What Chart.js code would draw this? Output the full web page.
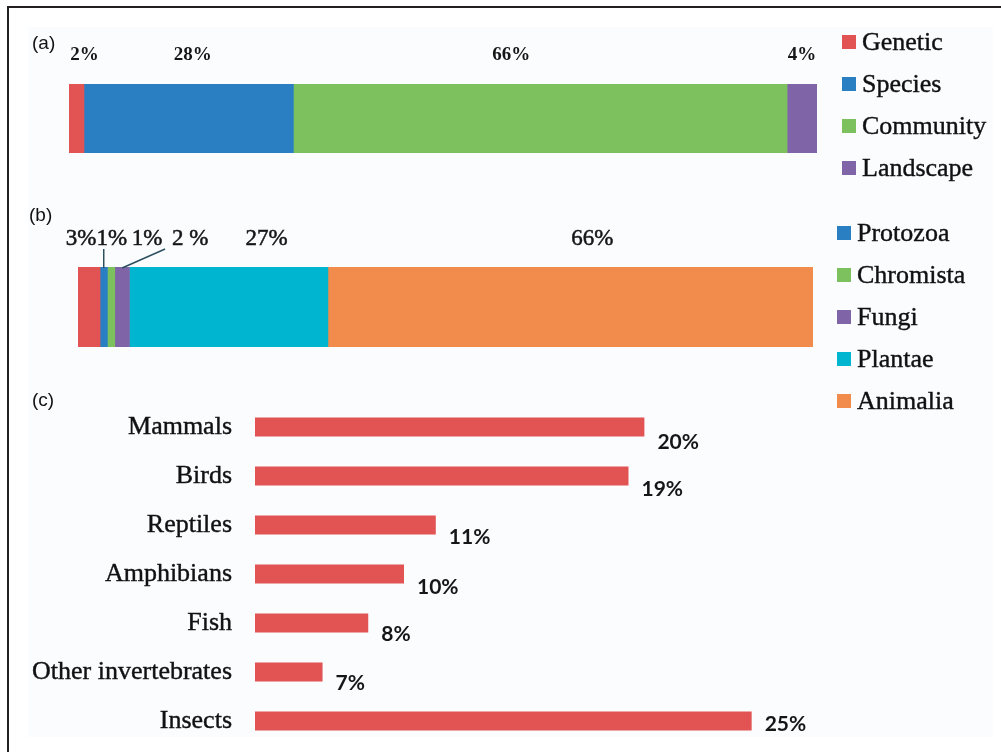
<!DOCTYPE html>
<html>
<head>
<meta charset="utf-8">
<script src="https://cdn.jsdelivr.net/npm/chart.js@4.4.1/dist/chart.umd.min.js"></script>
<style>
  body { margin: 0; background: #fff; width: 1001px; height: 752px; overflow: hidden; position: relative; }
  #frame { position: absolute; left: 7px; top: 6px; right: -10px; bottom: -10px; border-left: 2px solid #231f20; border-top: 2px solid #231f20; }
  #panel { position: absolute; left: 28px; top: 27px; width: 965px; height: 710px; background: #fbfcfe; }
  canvas { position: absolute; left: 0; }
  .tag { position: absolute; font: 19px 'Liberation Sans', Arial, sans-serif; color: #111; line-height: 20px; }
  .legend { position: absolute; list-style: none; margin: 0; padding: 0; font: 26px 'Liberation Serif', serif; color: #111; -webkit-text-stroke: 0.4px #111; }
  .legend li { height: 42px; display: flex; align-items: center; white-space: nowrap; }
  .legend span { display: inline-block; width: 14px; height: 14px; margin-right: 6px; }
</style>
</head>
<body>
<div id="frame"></div>
<div id="panel"></div>

<canvas id="chartA" width="1001" height="190" style="top:0"></canvas>
<canvas id="chartB" width="1001" height="200" style="top:190px"></canvas>
<canvas id="chartC" width="1001" height="424" style="top:362px"></canvas>

<div class="tag" style="left:32px;top:33px">(a)</div>
<div class="tag" style="left:29px;top:205px">(b)</div>
<div class="tag" style="left:32px;top:390px">(c)</div>

<ul class="legend" id="legendA" style="left:842px;top:21px"></ul>
<ul class="legend" id="legendB" style="left:837px;top:212px"></ul>

<script>
// (a) levels of biodiversity
const aLabels = ['Genetic', 'Species', 'Community', 'Landscape'];
const aValues = [2, 28, 66, 4];
const aColors = ['#e25353', '#2a7fc2', '#7dc15f', '#8064a8'];

// (b) kingdoms (first segment has no legend entry in the figure)
const bLabels = ['Bacteria', 'Protozoa', 'Chromista', 'Fungi', 'Plantae', 'Animalia'];
const bValues = [3, 1, 1, 2, 27, 66];
const bTexts = ['3%', '1%', '1%', '2 %', '27%', '66%'];
const bColors = ['#e25353', '#2a7fc2', '#7dc15f', '#8064a8', '#00b5cf', '#f28c4d'];

// (c) animal groups: bar lengths as drawn, and the printed percentages
const cCategories = ['Mammals', 'Birds', 'Reptiles', 'Amphibians', 'Fish', 'Other invertebrates', 'Insects'];
const cValues = [19.6, 18.8, 9.1, 7.5, 5.7, 3.4, 25];
const cTexts = ['20%', '19%', '11%', '10%', '8%', '7%', '25%'];

// label placement tweaks (px), not data
const aLabelShift = [8, 4, -29, 0];
const bLabelShift = [-8, 8, 36, 68, 38, 22];
const bLeaders = [null, 0, null, 43, null, null];
const cLabelDrop = [15, 13, 12, 13, 11, 11, 3];

const stackLabels = {
  id: 'stackLabels',
  afterDatasetsDraw(chart, args, opts) {
    const ctx = chart.ctx;
    ctx.save();
    ctx.font = opts.font;
    ctx.fillStyle = '#161616';
    ctx.strokeStyle = '#161616';
    ctx.lineWidth = opts.stroke || 0;
    ctx.textAlign = 'center';
    ctx.textBaseline = 'middle';
    chart.data.datasets.forEach((ds, i) => {
      const bar = chart.getDatasetMeta(i).data[0];
      const mid = (bar.x + bar.base) / 2;
      const top = bar.y - bar.height / 2;
      const y = top - opts.gap;
      ctx.fillText(opts.texts[i], mid + opts.shift[i], y);
      if (opts.stroke) ctx.strokeText(opts.texts[i], mid + opts.shift[i], y);
      const lead = opts.leaders ? opts.leaders[i] : null;
      if (lead !== null && lead !== undefined) {
        ctx.save();
        ctx.strokeStyle = '#2c4f5f';
        ctx.lineWidth = 1.5;
        ctx.beginPath();
        ctx.moveTo(mid + lead, y + 10);
        ctx.lineTo(mid, top + 1);
        ctx.stroke();
        ctx.restore();
      }
    });
    ctx.restore();
  }
};

const endLabels = {
  id: 'endLabels',
  afterDatasetsDraw(chart, args, opts) {
    const ctx = chart.ctx;
    ctx.save();
    ctx.font = opts.font;
    ctx.fillStyle = '#161616';
    ctx.textAlign = 'left';
    ctx.textBaseline = 'middle';
    chart.getDatasetMeta(0).data.forEach((bar, i) => {
      ctx.fillText(opts.texts[i], bar.x + 13, bar.y + opts.drop[i]);
    });
    ctx.restore();
  }
};

function stackedConfig(labels, values, colors, padding, labelOpts) {
  return {
    type: 'bar',
    data: {
      labels: [''],
      datasets: labels.map((l, i) => ({
        label: l,
        data: [values[i]],
        backgroundColor: colors[i],
        barPercentage: 1,
        categoryPercentage: 1
      }))
    },
    options: {
      indexAxis: 'y',
      responsive: false,
      animation: false,
      layout: { padding: padding },
      scales: {
        x: { stacked: true, min: 0, max: 100, display: false },
        y: { stacked: true, display: false }
      },
      plugins: {
        legend: { display: false },
        tooltip: { enabled: false },
        stackLabels: labelOpts
      }
    },
    plugins: [stackLabels]
  };
}

function buildLegend(chart, id, skip) {
  const ul = document.getElementById(id);
  chart.data.datasets.forEach((ds, i) => {
    if (skip.includes(i)) return;
    const li = document.createElement('li');
    const box = document.createElement('span');
    box.style.background = ds.backgroundColor;
    li.appendChild(box);
    li.appendChild(document.createTextNode(ds.label));
    ul.appendChild(li);
  });
}

const chartA = new Chart(document.getElementById('chartA'), stackedConfig(
  aLabels, aValues, aColors,
  { left: 69, right: 184, top: 84, bottom: 37 },
  { font: 'bold 19px "Liberation Serif"', texts: aValues.map(v => v + '%'), shift: aLabelShift, gap: 29 }
));
buildLegend(chartA, 'legendA', []);

const chartB = new Chart(document.getElementById('chartB'), stackedConfig(
  bLabels, bValues, bColors,
  { left: 78, right: 188, top: 77, bottom: 43 },
  { font: '23px "Liberation Serif"', texts: bTexts, shift: bLabelShift, gap: 28, leaders: bLeaders, stroke: 0.5 }
));
buildLegend(chartB, 'legendB', [0]);

new Chart(document.getElementById('chartC'), {
  type: 'bar',
  data: {
    labels: cCategories,
    datasets: [{
      data: cValues,
      backgroundColor: '#e25353',
      barPercentage: 0.39,
      categoryPercentage: 1
    }]
  },
  options: {
    indexAxis: 'y',
    responsive: false,
    animation: false,
    layout: { padding: { left: 0, right: 150, top: 40.5, bottom: 40.5 } },
    scales: {
      x: { min: 0, max: 30, display: false },
      y: {
        grid: { display: false, drawTicks: false },
        border: { display: false },
        ticks: {
          color: '#111',
          padding: 23,
          textStrokeColor: '#111',
          textStrokeWidth: 0.4,
          font: { family: 'Liberation Serif', size: 26 }
        },
        afterFit: s => { s.width = 255; }
      }
    },
    plugins: {
      legend: { display: false },
      tooltip: { enabled: false },
      endLabels: { font: 'bold 21px Lato', texts: cTexts, drop: cLabelDrop }
    }
  },
  plugins: [endLabels]
});
</script>
</body>
</html>
